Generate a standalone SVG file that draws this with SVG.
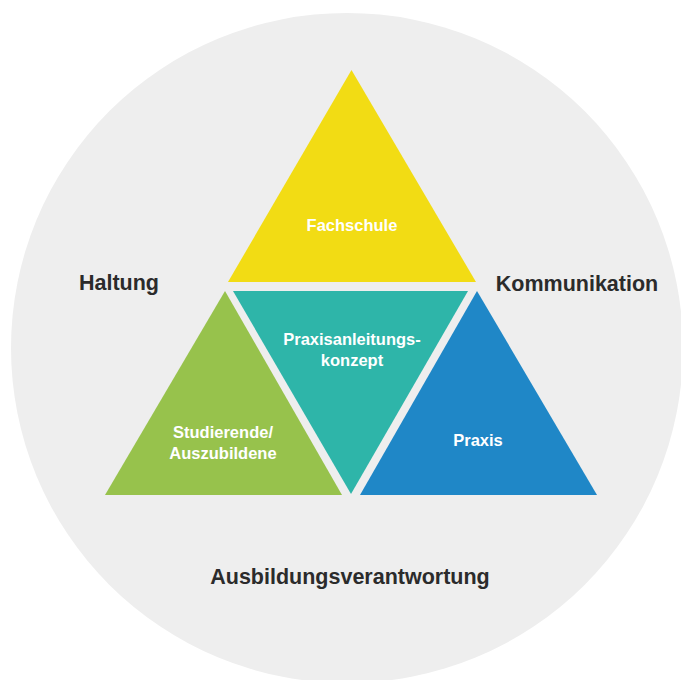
<svg xmlns="http://www.w3.org/2000/svg" width="681" height="680" viewBox="0 0 681 680">
<style>
.lbl{font-family:"Liberation Sans",Arial,sans-serif;font-weight:bold;font-size:21.5px;fill:#2b2b2b;text-anchor:middle}
.in{font-family:"Liberation Sans",Arial,sans-serif;font-weight:bold;font-size:16.5px;fill:#ffffff;text-anchor:middle}
</style>
<rect width="681" height="680" fill="#ffffff"/>
<ellipse id="circle" cx="347" cy="348" rx="336" ry="335" fill="#eeeeee"/>
<g id="fachschule">
<polygon points="351.5,70 228,282 476,282" fill="#f2dc14"/>
<text class="in" x="352" y="231">Fachschule</text>
</g>
<g id="studierende">
<polygon points="225,291 105,495 342,495" fill="#97c24c"/>
<text class="in" x="223" y="438">Studierende/</text>
<text class="in" x="223" y="459">Auszubildene</text>
</g>
<g id="konzept">
<polygon points="233,291 468,291 351,494" fill="#2eb5a9"/>
<text class="in" x="352" y="345">Praxisanleitungs-</text>
<text class="in" x="352" y="366">konzept</text>
</g>
<g id="praxis">
<polygon points="477,291 360,495 597,495" fill="#1f87c7"/>
<text class="in" x="478" y="446">Praxis</text>
</g>
<g id="connectors"></g>
<text class="lbl" x="119" y="290">Haltung</text>
<text class="lbl" x="577" y="291">Kommunikation</text>
<text class="lbl" x="350" y="584">Ausbildungsverantwortung</text>
</svg>
